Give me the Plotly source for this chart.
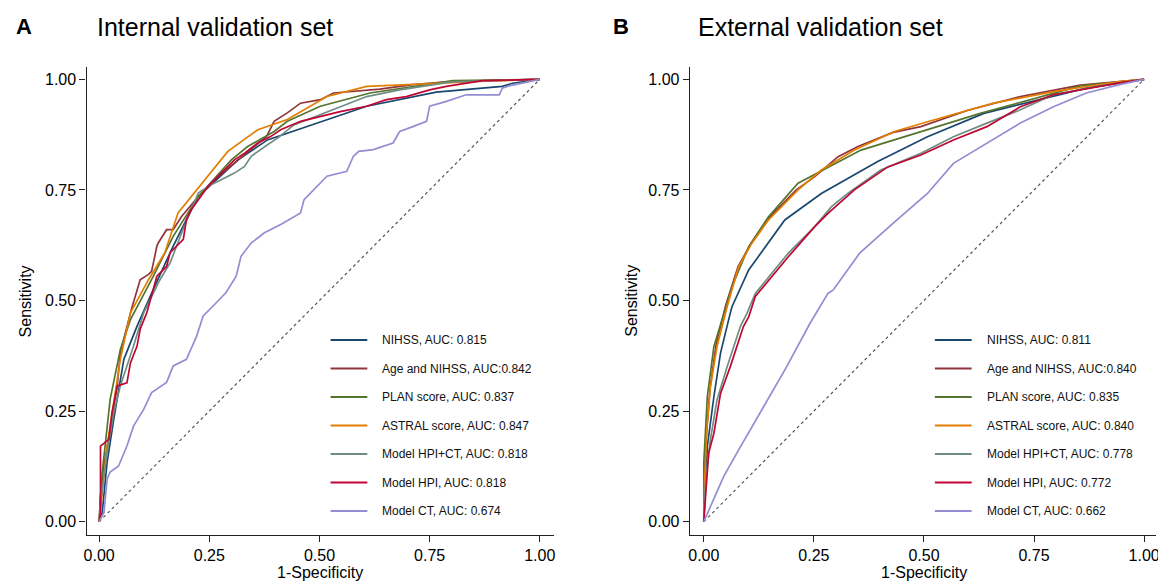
import plotly.graph_objects as go

# ---------------- data ----------------
MODEL_NAMES = ["NIHSS", "Age and NIHSS", "PLAN score", "ASTRAL score",
               "Model HPI+CT", "Model HPI", "Model CT"]
LEGEND_A = ["NIHSS, AUC: 0.815", "Age and NIHSS, AUC:0.842", "PLAN score, AUC: 0.837",
            "ASTRAL score, AUC: 0.847", "Model HPI+CT, AUC: 0.818", "Model HPI, AUC: 0.818",
            "Model CT, AUC: 0.674"]
LEGEND_B = ["NIHSS, AUC: 0.811", "Age and NIHSS, AUC:0.840", "PLAN score, AUC: 0.835",
            "ASTRAL score, AUC: 0.840", "Model HPI+CT, AUC: 0.778", "Model HPI, AUC: 0.772",
            "Model CT, AUC: 0.662"]
COLORS = ["#1a476f", "#90353b", "#55752f", "#e37e00", "#6e8e84", "#c10534", "#938dd2"]
TICKS = [0, 0.25, 0.5, 0.75, 1.0]
TICK_LABELS = ["0.00", "0.25", "0.50", "0.75", "1.00"]

# Panel A (internal validation)
A_NIHSS_X = [0, 0.007, 0.018, 0.033, 0.056, 0.086, 0.123, 0.168, 0.213, 0.225, 0.315, 0.382, 0.607, 0.765, 0.915, 0.938, 1]
A_NIHSS_Y = [0, 0.021, 0.134, 0.231, 0.367, 0.442, 0.525, 0.623, 0.713, 0.735, 0.818, 0.863, 0.939, 0.971, 0.984, 0.991, 1]
A_AGE_X = [0, 0.003, 0.010, 0.018, 0.030, 0.041, 0.048, 0.060, 0.071, 0.074, 0.085, 0.093, 0.112, 0.119, 0.131, 0.134, 0.153, 0.168, 0.187, 0.225, 0.270, 0.315, 0.360, 0.380, 0.397, 0.427, 0.457, 0.502, 0.532, 0.637, 0.712, 0.788, 1]
A_AGE_Y = [0, 0.060, 0.120, 0.171, 0.240, 0.307, 0.382, 0.430, 0.472, 0.483, 0.520, 0.547, 0.559, 0.566, 0.623, 0.630, 0.660, 0.660, 0.690, 0.735, 0.780, 0.818, 0.856, 0.871, 0.905, 0.924, 0.946, 0.954, 0.969, 0.978, 0.988, 0.994, 1]
A_PLAN_X = [0, 0.007, 0.025, 0.048, 0.071, 0.123, 0.168, 0.225, 0.300, 0.337, 0.397, 0.427, 0.502, 0.615, 0.803, 1]
A_PLAN_Y = [0, 0.112, 0.277, 0.389, 0.457, 0.555, 0.645, 0.735, 0.818, 0.848, 0.882, 0.905, 0.939, 0.969, 0.997, 1]
A_ASTRAL_X = [0, 0.007, 0.018, 0.048, 0.071, 0.112, 0.149, 0.179, 0.209, 0.292, 0.360, 0.427, 0.517, 0.607, 0.863, 1]
A_ASTRAL_Y = [0, 0.073, 0.171, 0.367, 0.472, 0.547, 0.608, 0.698, 0.735, 0.837, 0.886, 0.909, 0.961, 0.984, 0.995, 1]
A_HPICT_X = [0, 0.004, 0.018, 0.033, 0.048, 0.078, 0.101, 0.138, 0.161, 0.190, 0.225, 0.247, 0.277, 0.307, 0.330, 0.345, 0.382, 0.405, 0.442, 0.502, 0.547, 0.607, 0.682, 0.800, 1]
A_HPICT_Y = [0, 0.050, 0.156, 0.246, 0.307, 0.397, 0.472, 0.547, 0.585, 0.660, 0.743, 0.758, 0.773, 0.788, 0.803, 0.826, 0.852, 0.867, 0.897, 0.920, 0.939, 0.961, 0.976, 0.994, 1]
A_HPI_X = [0, 0.003, 0.003, 0.022, 0.029, 0.041, 0.063, 0.071, 0.086, 0.093, 0.108, 0.131, 0.153, 0.161, 0.191, 0.198, 0.209, 0.247, 0.277, 0.307, 0.330, 0.360, 0.390, 0.412, 0.457, 0.502, 0.547, 0.607, 0.652, 0.697, 0.750, 0.788, 0.870, 1]
A_HPI_Y = [0, 0.020, 0.171, 0.186, 0.246, 0.307, 0.314, 0.359, 0.397, 0.435, 0.472, 0.555, 0.577, 0.608, 0.638, 0.683, 0.705, 0.758, 0.788, 0.818, 0.833, 0.856, 0.871, 0.886, 0.905, 0.916, 0.927, 0.939, 0.954, 0.961, 0.976, 0.984, 0.997, 1]
A_CT_X = [0, 0.011, 0.018, 0.025, 0.044, 0.063, 0.078, 0.101, 0.119, 0.153, 0.168, 0.198, 0.221, 0.236, 0.258, 0.288, 0.311, 0.322, 0.345, 0.375, 0.412, 0.457, 0.465, 0.487, 0.517, 0.562, 0.577, 0.589, 0.622, 0.667, 0.682, 0.712, 0.743, 0.750, 0.788, 0.833, 0.908, 0.915, 0.930, 1]
A_CT_Y = [0, 0.021, 0.096, 0.112, 0.126, 0.171, 0.216, 0.254, 0.292, 0.315, 0.352, 0.367, 0.419, 0.465, 0.487, 0.518, 0.555, 0.600, 0.630, 0.653, 0.672, 0.698, 0.728, 0.751, 0.781, 0.792, 0.826, 0.837, 0.841, 0.856, 0.882, 0.893, 0.905, 0.939, 0.950, 0.965, 0.965, 0.980, 0.985, 1]

# Panel B (external validation)
B_NIHSS_X = [0, 0.008, 0.023, 0.038, 0.060, 0.064, 0.102, 0.184, 0.267, 0.395, 0.508, 0.636, 0.869, 1]
B_NIHSS_Y = [0, 0.170, 0.283, 0.381, 0.471, 0.486, 0.569, 0.682, 0.742, 0.814, 0.870, 0.923, 0.980, 1]
B_AGE_X = [0, 0.001, 0.006, 0.014, 0.028, 0.050, 0.078, 0.108, 0.146, 0.210, 0.252, 0.305, 0.350, 0.430, 0.493, 0.600, 0.719, 0.855, 1]
B_AGE_Y = [0, 0.100, 0.200, 0.300, 0.400, 0.490, 0.577, 0.630, 0.685, 0.750, 0.780, 0.825, 0.848, 0.880, 0.893, 0.930, 0.961, 0.987, 1]
B_PLAN_X = [0, 0.000, 0.008, 0.023, 0.064, 0.102, 0.147, 0.214, 0.357, 0.628, 0.855, 1]
B_PLAN_Y = [0, 0.133, 0.283, 0.396, 0.531, 0.622, 0.689, 0.765, 0.840, 0.923, 0.985, 1]
B_ASTRAL_X = [0, 0.002, 0.007, 0.015, 0.030, 0.053, 0.079, 0.109, 0.147, 0.214, 0.267, 0.342, 0.433, 0.508, 0.658, 0.794, 0.944, 1]
B_ASTRAL_Y = [0, 0.094, 0.207, 0.305, 0.396, 0.486, 0.576, 0.629, 0.682, 0.750, 0.795, 0.840, 0.882, 0.904, 0.946, 0.972, 0.995, 1]
B_HPICT_X = [0, 0.004, 0.015, 0.030, 0.053, 0.083, 0.098, 0.117, 0.154, 0.192, 0.252, 0.290, 0.327, 0.402, 0.493, 0.567, 0.643, 0.719, 0.794, 0.900, 1]
B_HPICT_Y = [0, 0.094, 0.185, 0.275, 0.350, 0.441, 0.471, 0.516, 0.561, 0.607, 0.667, 0.712, 0.742, 0.795, 0.833, 0.870, 0.901, 0.931, 0.965, 0.985, 1]
B_HPI_X = [0, 0.004, 0.011, 0.023, 0.038, 0.060, 0.090, 0.102, 0.117, 0.192, 0.252, 0.282, 0.342, 0.418, 0.493, 0.567, 0.643, 0.719, 0.794, 0.944, 1]
B_HPI_Y = [0, 0.060, 0.155, 0.200, 0.290, 0.350, 0.441, 0.463, 0.509, 0.599, 0.667, 0.697, 0.750, 0.802, 0.829, 0.863, 0.893, 0.938, 0.965, 0.992, 1]
B_CT_X = [0, 0.015, 0.045, 0.075, 0.128, 0.188, 0.241, 0.282, 0.294, 0.354, 0.429, 0.508, 0.567, 0.643, 0.719, 0.794, 0.869, 0.944, 1]
B_CT_Y = [0, 0.034, 0.102, 0.155, 0.245, 0.350, 0.448, 0.516, 0.524, 0.607, 0.674, 0.742, 0.810, 0.855, 0.901, 0.938, 0.969, 0.988, 1]

DIAG = [0, 1]

PANEL_A = [(A_NIHSS_X, A_NIHSS_Y), (A_AGE_X, A_AGE_Y), (A_PLAN_X, A_PLAN_Y), (A_ASTRAL_X, A_ASTRAL_Y),
           (A_HPICT_X, A_HPICT_Y), (A_HPI_X, A_HPI_Y), (A_CT_X, A_CT_Y)]
PANEL_B = [(B_NIHSS_X, B_NIHSS_Y), (B_AGE_X, B_AGE_Y), (B_PLAN_X, B_PLAN_Y), (B_ASTRAL_X, B_ASTRAL_Y),
           (B_HPICT_X, B_HPICT_Y), (B_HPI_X, B_HPI_Y), (B_CT_X, B_CT_Y)]

# ---------------- figure ----------------
OFF = 8  # page body margin added by the browser around the plot div
W, H = 1166 - OFF, 581 - OFF
FONT = "Liberation Sans, Arial, Helvetica, sans-serif"
fig = go.Figure()

def px(x):
    return (x - OFF) / W

def py(y):
    return 1 - (y - OFF) / H

panels = [
    dict(data=PANEL_A, legend=LEGEND_A, xa="x", ya="y",
         dom=(84, 554), x0=96.7, x1=540.0, leg_line=(329.5, 366.5), leg_text=379.5,
         letter="A", letter_x=21, title="Internal validation set", title_x=93,
         ytitle_x=22.5, xtitle_x=318.5),
    dict(data=PANEL_B, legend=LEGEND_B, xa="x2", ya="y2",
         dom=(691, 1160), x0=705.0, x1=1148.0, leg_line=(937.5, 974.5), leg_text=987.5,
         letter="B", letter_x=622, title="External validation set", title_x=697,
         ytitle_x=631.5, xtitle_x=926.5),
]

Y_TOP, Y_BOT = 67, 535
Y0_PX, Y1_PX = 521.7, 79.3
LEG_Y = [340, 368.5, 397, 425.5, 454, 482.5, 511]

for p in panels:
    fig.add_trace(go.Scatter(x=DIAG, y=DIAG, mode="lines", xaxis=p["xa"], yaxis=p["ya"],
                             line=dict(color="#555555", width=1.2, dash="dot"),
                             showlegend=False, hoverinfo="skip"))
    for i, (xs, ys) in enumerate(p["data"]):
        fig.add_trace(go.Scatter(x=xs, y=ys, mode="lines", xaxis=p["xa"], yaxis=p["ya"],
                                 name=p["legend"][i], line=dict(color=COLORS[i], width=1.7),
                                 showlegend=False))
    for i, lab in enumerate(p["legend"]):
        fig.add_shape(type="line", xref="paper", yref="paper",
                      x0=px(p["leg_line"][0]), x1=px(p["leg_line"][1]),
                      y0=py(LEG_Y[i]), y1=py(LEG_Y[i]),
                      line=dict(color=COLORS[i], width=2))
        fig.add_annotation(xref="paper", yref="paper", x=px(p["leg_text"]), y=py(LEG_Y[i]),
                           text=lab, showarrow=False, xanchor="left", yanchor="middle",
                           font=dict(family=FONT, size=12, color="#111111"))
    fig.add_annotation(xref="paper", yref="paper", x=px(p["letter_x"]), y=py(26.5),
                       text="<b>%s</b>" % p["letter"], showarrow=False,
                       xanchor="center", yanchor="middle",
                       font=dict(family=FONT, size=22, color="#000000"))
    fig.add_annotation(xref="paper", yref="paper", x=px(p["title_x"]), y=py(26.5),
                       text=p["title"], showarrow=False, xanchor="left", yanchor="middle",
                       font=dict(family=FONT, size=25, color="#000000"))
    fig.add_annotation(xref="paper", yref="paper", x=px(p["ytitle_x"]), y=py(301),
                       text="Sensitivity", showarrow=False, textangle=-90,
                       xanchor="center", yanchor="middle",
                       font=dict(family=FONT, size=16, color="#000000"))
    fig.add_annotation(xref="paper", yref="paper", x=px(p["xtitle_x"]), y=py(572),
                       text="1-Specificity", showarrow=False,
                       xanchor="center", yanchor="middle",
                       font=dict(family=FONT, size=16, color="#000000"))

def axis_common():
    return dict(showline=True, linecolor="#222222", linewidth=1.4, showgrid=False,
                zeroline=False, ticks="outside", ticklen=6, tickwidth=1.3, tickcolor="#222222",
                tickvals=TICKS, ticktext=TICK_LABELS,
                tickfont=dict(family=FONT, size=16, color="#000000"), fixedrange=True)

ydom = (py(Y_BOT), py(Y_TOP))
yscale = Y0_PX - Y1_PX
yr = (-(Y_BOT - Y0_PX) / yscale, 1 + (Y1_PX - Y_TOP) / yscale)

layout_axes = {}
for k, p in enumerate(panels):
    d0, d1 = p["dom"]
    sc = p["x1"] - p["x0"]
    xr = (-(p["x0"] - d0) / sc, (d1 - p["x0"]) / sc)
    suffix = "" if k == 0 else "2"
    layout_axes["xaxis" + suffix] = dict(domain=[px(d0), px(d1)], range=list(xr),
                                         anchor="y" + suffix, **axis_common())
    layout_axes["yaxis" + suffix] = dict(domain=list(ydom), range=list(yr),
                                         anchor="x" + suffix, **axis_common())

fig.update_layout(width=W, height=H, margin=dict(l=0, r=0, t=0, b=0),
                  paper_bgcolor="white", plot_bgcolor="white",
                  font=dict(family=FONT), showlegend=False, **layout_axes)

fig.write_html("out.html")
